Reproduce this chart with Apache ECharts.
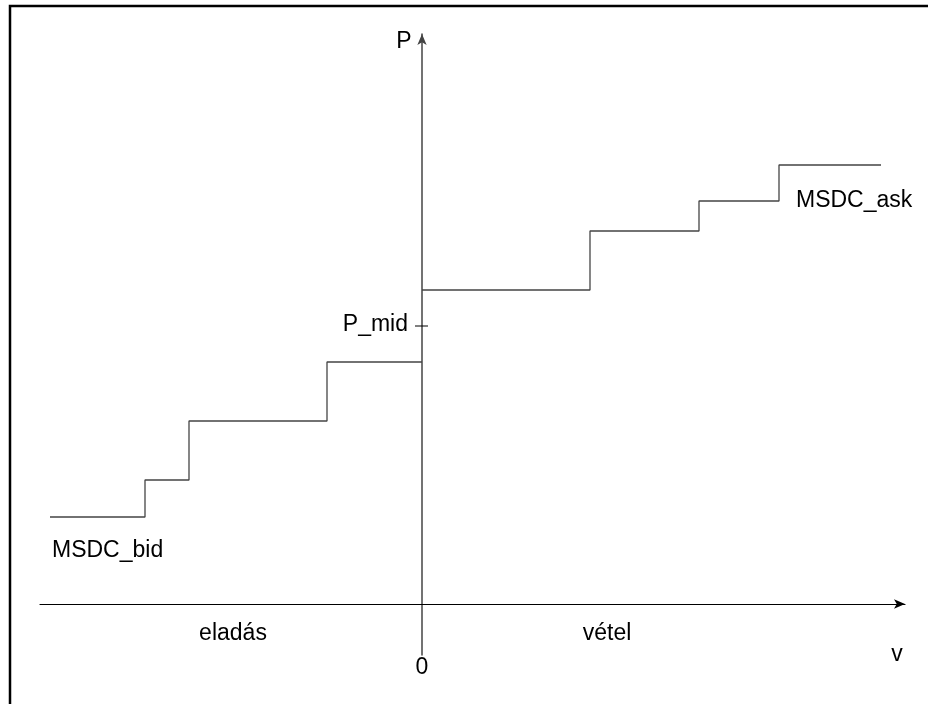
<!DOCTYPE html>
<html>
<head>
<meta charset="utf-8">
<script src="https://cdn.jsdelivr.net/npm/echarts@6/dist/echarts.min.js"></script>
<style>html,body{margin:0;padding:0;background:#fff}#c{width:928px;height:704px}</style>
</head>
<body>
<div id="c"></div>
<script>
// volume (v) and price (P) in chart units
const bidV = [-372, -277, -233, -95, 0];
const bidP = [87, 124, 183, 242, 242];
const askV = [0, 168, 277, 357, 459];
const askP = [314, 373, 403, 439, 439];
const pMid = 278;
const pMidTickV = [-7, 6];
const vRange = [-382, 483];
const pRange = [-51, 570];

const chart = echarts.init(document.getElementById('c'), null, {renderer: 'canvas'});
const F = '"Liberation Sans", Arial, sans-serif';
const txt = (x, y, s, align) => ({
  type: 'text', x: x, y: y,
  style: {text: s, font: '23px ' + F, fill: '#000', textAlign: align || 'left', textVerticalAlign: 'middle'}
});
chart.setOption({
  animation: false,
  backgroundColor: '#fff',
  grid: {left: 40, right: 23, top: 34, bottom: 49},
  xAxis: {
    type: 'value', min: vRange[0], max: vRange[1],
    splitLine: {show: false}, axisTick: {show: false}, axisLabel: {show: false},
    axisLine: {onZero: true, lineStyle: {color: '#000', width: 1.2}, symbol: ['none', 'arrow'], symbolSize: [7, 11]}
  },
  yAxis: {
    type: 'value', min: pRange[0], max: pRange[1],
    splitLine: {show: false}, axisTick: {show: false},
    axisLabel: {show: false},
    axisLine: {onZero: true, lineStyle: {color: '#444', width: 1.5}, symbol: ['none', 'arrow'], symbolSize: [7, 11]}
  },
  series: [
    {type: 'line', step: 'end', symbol: 'none', data: bidV.map((v, i) => [v, bidP[i]]),
     lineStyle: {color: '#444', width: 1.3}},
    {type: 'line', step: 'end', symbol: 'none', data: askV.map((v, i) => [v, askP[i]]),
     lineStyle: {color: '#444', width: 1.3}},
    {type: 'line', symbol: 'none', data: pMidTickV.map(v => [v, pMid]),
     lineStyle: {color: '#000', width: 1}}
  ],
  graphic: [
    {type: 'rect', shape: {x: 10, y: 6, width: 1000, height: 1000},
     style: {fill: 'none', stroke: '#000', lineWidth: 2.5}, silent: true},
    txt(404, 42, 'P', 'center'),
    txt(408, 325, 'P_mid', 'right'),
    txt(796, 201, 'MSDC_ask'),
    txt(52, 551, 'MSDC_bid'),
    txt(233, 634, 'eladás', 'center'),
    txt(607, 634, 'vétel', 'center'),
    txt(422, 668, '0', 'center'),
    txt(897, 655, 'v', 'center')
  ]
});
</script>
</body>
</html>
